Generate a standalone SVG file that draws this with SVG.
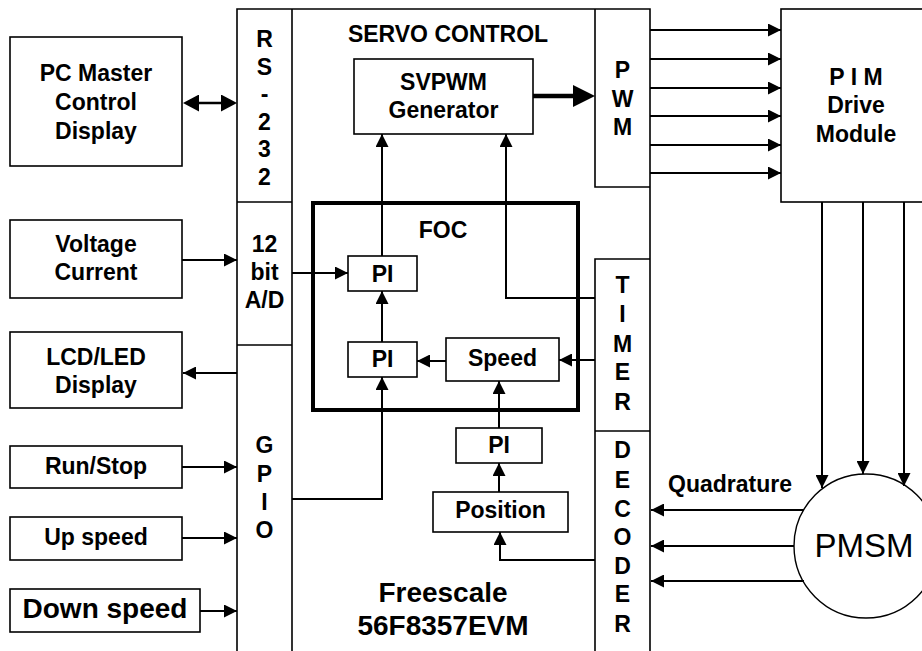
<svg xmlns="http://www.w3.org/2000/svg" width="922" height="651" viewBox="0 0 922 651">
<style>
.t{font-family:"Liberation Sans",Arial,sans-serif;font-weight:bold;font-size:23px;text-anchor:middle;fill:#000}
.big{font-size:28px}
.pmsm{font-family:"Liberation Sans",Arial,sans-serif;font-weight:normal;font-size:33px;text-anchor:middle;fill:#000}
.box{fill:#fff;stroke:#000;stroke-width:1.6}
.ln{fill:none;stroke:#000;stroke-width:1.6}
.c{fill:none;stroke:#000;stroke-width:2;marker-end:url(#ah)}
</style>
<defs>
<marker id="ah" markerUnits="userSpaceOnUse" markerWidth="14" markerHeight="13" refX="13" refY="6.5" orient="auto">
<path d="M0,0 L13,6.5 L0,13 z" fill="#000"/>
</marker>
<marker id="ahd" markerUnits="userSpaceOnUse" markerWidth="17" markerHeight="17" refX="12" refY="8.5" orient="auto-start-reverse">
<path d="M0,0 L16,8.5 L0,17 z" fill="#000"/>
</marker>
<marker id="ahb" markerUnits="userSpaceOnUse" markerWidth="23" markerHeight="23" refX="12" refY="11" orient="auto">
<path d="M0,0 L22,11 L0,22 z" fill="#000"/>
</marker>
</defs>

<g id="board">
<path class="ln" d="M237,651 V9 H650 V651 M292,9 V651 M237,202 H292 M237,345 H292 M595,9 V187 H650 M595,651 V259 H650 M595,431 H650"/>
<text class="t" x="448" y="42">SERVO CONTROL</text>
<text class="t big" x="443" y="602">Freescale</text>
<text class="t big" x="443" y="635">56F8357EVM</text>
</g>

<g id="rs232">
<text class="t" x="264.5" y="47">R</text>
<text class="t" x="264.5" y="74.5">S</text>
<text class="t" x="264.5" y="102">-</text>
<text class="t" x="264.5" y="130">2</text>
<text class="t" x="264.5" y="157">3</text>
<text class="t" x="264.5" y="185">2</text>
</g>
<g id="adc">
<text class="t" x="264.5" y="252">12</text>
<text class="t" x="264.5" y="280">bit</text>
<text class="t" x="264.5" y="308">A/D</text>
</g>
<g id="gpio">
<text class="t" x="264.5" y="453">G</text>
<text class="t" x="264.5" y="482">P</text>
<text class="t" x="264.5" y="510">I</text>
<text class="t" x="264.5" y="538">O</text>
</g>
<g id="pwm">
<text class="t" x="622.5" y="78">P</text>
<text class="t" x="622.5" y="107">W</text>
<text class="t" x="622.5" y="135">M</text>
</g>
<g id="timer">
<text class="t" x="622.5" y="293">T</text>
<text class="t" x="622.5" y="322">I</text>
<text class="t" x="622.5" y="352">M</text>
<text class="t" x="622.5" y="380">E</text>
<text class="t" x="622.5" y="410">R</text>
</g>
<g id="decoder">
<text class="t" x="622.5" y="458">D</text>
<text class="t" x="622.5" y="488">E</text>
<text class="t" x="622.5" y="517">C</text>
<text class="t" x="622.5" y="545">O</text>
<text class="t" x="622.5" y="574">D</text>
<text class="t" x="622.5" y="602">E</text>
<text class="t" x="622.5" y="632">R</text>
</g>

<g id="pc">
<rect class="box" x="10" y="37" width="172" height="129"/>
<text class="t" x="96" y="81">PC Master</text>
<text class="t" x="96" y="110">Control</text>
<text class="t" x="96" y="139">Display</text>
</g>
<g id="voltage">
<rect class="box" x="10" y="220" width="172" height="78"/>
<text class="t" x="96" y="252">Voltage</text>
<text class="t" x="96" y="280">Current</text>
</g>
<g id="lcd">
<rect class="box" x="10" y="332" width="172" height="76"/>
<text class="t" x="96" y="365">LCD/LED</text>
<text class="t" x="96" y="393">Display</text>
</g>
<g id="runstop">
<rect class="box" x="10" y="446" width="172" height="42"/>
<text class="t" x="96" y="474">Run/Stop</text>
</g>
<g id="upspeed">
<rect class="box" x="10" y="517" width="172" height="43"/>
<text class="t" x="96" y="545">Up speed</text>
</g>
<g id="downspeed">
<rect class="box" x="10" y="589" width="190" height="43"/>
<text class="t big" x="105" y="618">Down speed</text>
</g>

<g id="svpwm">
<rect class="box" x="354" y="59" width="179" height="75"/>
<text class="t" x="443.5" y="90">SVPWM</text>
<text class="t" x="443.5" y="118">Generator</text>
</g>
<g id="foc">
<rect x="313" y="203" width="265" height="207" fill="none" stroke="#000" stroke-width="4"/>
<text class="t" x="443" y="238">FOC</text>
</g>
<g id="pi1">
<rect class="box" x="348" y="256" width="69" height="35"/>
<text class="t" x="382.5" y="282">PI</text>
</g>
<g id="pi2">
<rect class="box" x="348" y="342" width="69" height="35"/>
<text class="t" x="382.5" y="367">PI</text>
</g>
<g id="speed">
<rect class="box" x="446" y="338" width="113" height="43"/>
<text class="t" x="502.5" y="366">Speed</text>
</g>
<g id="pi3">
<rect class="box" x="456" y="428" width="86" height="35"/>
<text class="t" x="499" y="453">PI</text>
</g>
<g id="position">
<rect class="box" x="433" y="492" width="135" height="40"/>
<text class="t" x="500.5" y="518">Position</text>
</g>
<g id="pim">
<rect class="box" x="781" y="9" width="150" height="193"/>
<text class="t" x="856" y="85">P I M</text>
<text class="t" x="856" y="113">Drive</text>
<text class="t" x="856" y="142">Module</text>
</g>
<g id="pmsm">
<circle cx="866" cy="546" r="72" fill="#fff" stroke="#000" stroke-width="1.4"/>
<text class="pmsm" x="864" y="557">PMSM</text>
</g>
<g id="quadlabel">
<text class="t" x="730" y="492">Quadrature</text>
</g>

<g id="connectors">
<line x1="187" y1="103" x2="233" y2="103" stroke="#000" stroke-width="2.5" marker-start="url(#ahd)" marker-end="url(#ahd)"/>
<line class="c" x1="182" y1="260" x2="237" y2="260"/>
<line class="c" x1="237" y1="373" x2="183" y2="373"/>
<line class="c" x1="182" y1="467" x2="237" y2="467"/>
<line class="c" x1="182" y1="538" x2="237" y2="538"/>
<line class="c" x1="200" y1="611" x2="237" y2="611"/>
<line class="c" x1="292" y1="273" x2="348" y2="273"/>
<line class="c" x1="382" y1="256" x2="382" y2="134"/>
<line class="c" x1="382" y1="342" x2="382" y2="291"/>
<line class="c" x1="446" y1="361" x2="417" y2="361"/>
<line class="c" x1="595" y1="360" x2="559" y2="360"/>
<polyline class="c" points="595,298 506,298 506,134"/>
<polyline class="c" points="292,499 382,499 382,377"/>
<line class="c" x1="499" y1="428" x2="499" y2="381"/>
<line class="c" x1="499" y1="492" x2="499" y2="463"/>
<polyline class="c" points="595,560 500,560 500,532"/>
<line x1="533" y1="96" x2="585" y2="96" stroke="#000" stroke-width="4.5" marker-end="url(#ahb)"/>
<line class="c" x1="650" y1="30" x2="781" y2="30"/>
<line class="c" x1="650" y1="59" x2="781" y2="59"/>
<line class="c" x1="650" y1="88" x2="781" y2="88"/>
<line class="c" x1="650" y1="116" x2="781" y2="116"/>
<line class="c" x1="650" y1="145" x2="781" y2="145"/>
<line class="c" x1="650" y1="173" x2="781" y2="173"/>
<line class="c" x1="822" y1="202" x2="822" y2="488"/>
<line class="c" x1="863" y1="202" x2="863" y2="474"/>
<line class="c" x1="904" y1="202" x2="904" y2="486"/>
<line class="c" x1="804" y1="510" x2="651" y2="510"/>
<line class="c" x1="794" y1="546" x2="651" y2="546"/>
<line class="c" x1="804" y1="581" x2="651" y2="581"/>
</g>
</svg>
